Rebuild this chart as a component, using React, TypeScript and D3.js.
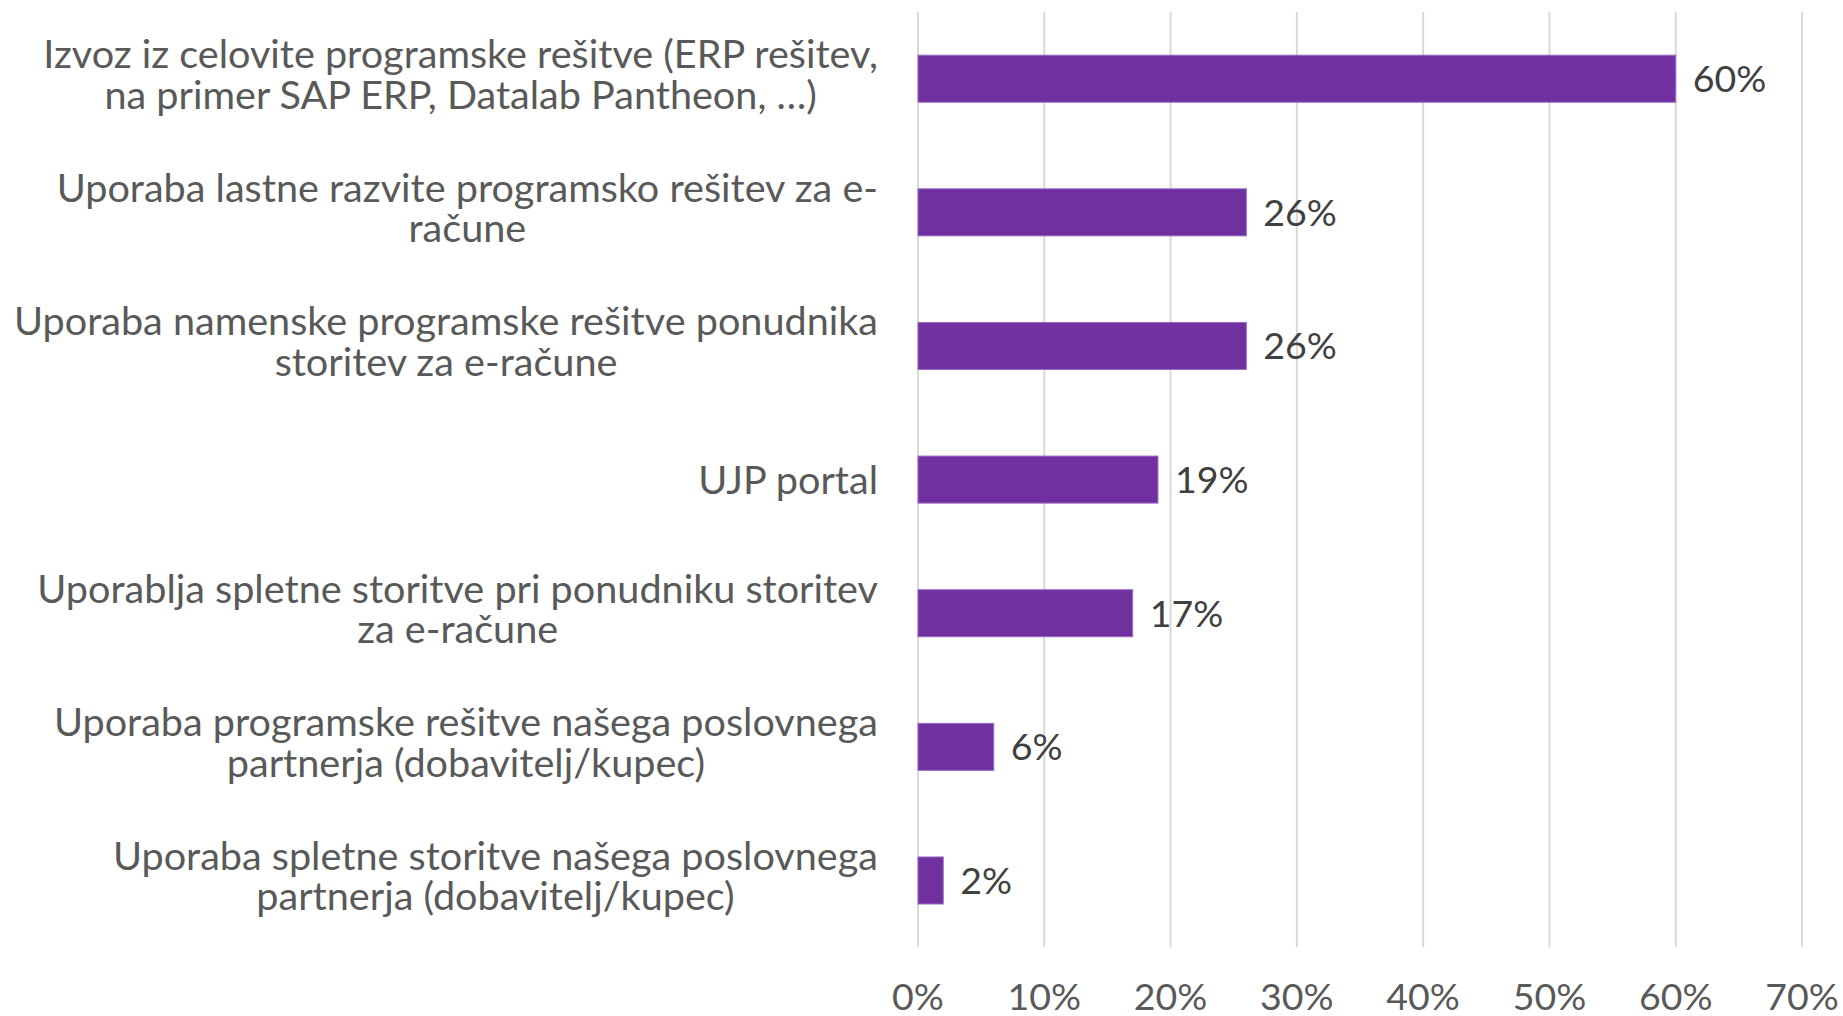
import React from "react";
import * as d3 from "d3";

const categories: string[][] = [
  ["Izvoz iz celovite programske rešitve (ERP rešitev,", "na primer SAP ERP, Datalab Pantheon, …)"],
  ["Uporaba lastne razvite programsko rešitev za e-", "račune"],
  ["Uporaba namenske programske rešitve ponudnika", "storitev za e-račune"],
  ["UJP portal"],
  ["Uporablja spletne storitve pri ponudniku storitev", "za e-račune"],
  ["Uporaba programske rešitve našega poslovnega", "partnerja (dobavitelj/kupec)"],
  ["Uporaba spletne storitve našega poslovnega", "partnerja (dobavitelj/kupec)"],
];
const values: number[] = [0.6, 0.26, 0.26, 0.19, 0.17, 0.06, 0.02];
const ticks: number[] = [0, 0.1, 0.2, 0.3, 0.4, 0.5, 0.6, 0.7];

const W = 1843;
const H = 1016;
const FONT = "Lato, 'Open Sans', sans-serif";

export default function App() {
  const x = d3.scaleLinear().domain([0, 0.7]).range([918, 1802]);
  const y = d3
    .scaleBand<number>()
    .domain(values.map((_, i) => i))
    .range([11.9, 947.3])
    .padding(0);
  const barH = y.bandwidth() * 0.352;
  const pct = d3.format(".0%");
  const catSize = 39.6;
  const numSize = 37.5;
  const labelRight = 878;

  return (
    <svg
      width={W}
      height={H}
      style={{ position: "absolute", left: 0, top: 0, display: "block", background: "#fff" }}
      fontFamily={FONT}
    >
      <rect x={0} y={0} width={W} height={H} fill="#ffffff" />
      {ticks.map((t) => (
        <line
          key={"g" + t}
          x1={x(t)}
          x2={x(t)}
          y1={11.9}
          y2={947.3}
          stroke="#d9d9d9"
          strokeWidth={2}
        />
      ))}
      {values.map((v, i) => {
        const c = (y(i) as number) + y.bandwidth() / 2;
        return (
          <g key={"b" + i}>
            <rect
              x={x(0)}
              y={c - barH / 2}
              width={x(v) - x(0)}
              height={barH}
              fill="#7030A0"
              stroke="#9a6cc4"
              strokeWidth={1}
            />
            <text
              x={x(v) + 17}
              y={c + numSize * 0.36}
              fontSize={numSize}
              fill="#404040"
            >
              {pct(v)}
            </text>
          </g>
        );
      })}
      {categories.map((lines, i) => {
        const c = (y(i) as number) + y.bandwidth() / 2;
        if (lines.length === 1) {
          return (
            <text
              key={"c" + i}
              x={labelRight}
              y={c + catSize * 0.36}
              fontSize={catSize}
              fill="#595959"
              textAnchor="end"
            >
              {lines[0]}
            </text>
          );
        }
        return (
          <CenteredLabel
            key={"c" + i}
            lines={lines}
            right={labelRight}
            center={c}
            size={catSize}
          />
        );
      })}
      {ticks.map((t) => (
        <text
          key={"t" + t}
          x={x(t)}
          y={1010}
          fontSize={numSize}
          fill="#595959"
          textAnchor="middle"
        >
          {pct(t)}
        </text>
      ))}
    </svg>
  );
}

function CenteredLabel({
  lines,
  right,
  center,
  size,
}: {
  lines: string[];
  right: number;
  center: number;
  size: number;
}) {
  const ref = React.useRef<SVGGElement>(null);
  React.useLayoutEffect(() => {
    const g = ref.current;
    if (!g) return;
    const texts = Array.from(g.querySelectorAll("text")) as SVGTextElement[];
    const widths = texts.map((t) => t.getComputedTextLength());
    const maxW = Math.max(...widths);
    const mid = right - maxW / 2;
    texts.forEach((t) => t.setAttribute("x", String(mid)));
  }, [lines, right]);
  return (
    <g ref={ref}>
      {lines.map((l, j) => (
        <text
          key={j}
          x={right}
          y={center - 10.5 + j * 40.5}
          fontSize={size}
          fill="#595959"
          textAnchor="middle"
        >
          {l}
        </text>
      ))}
    </g>
  );
}
